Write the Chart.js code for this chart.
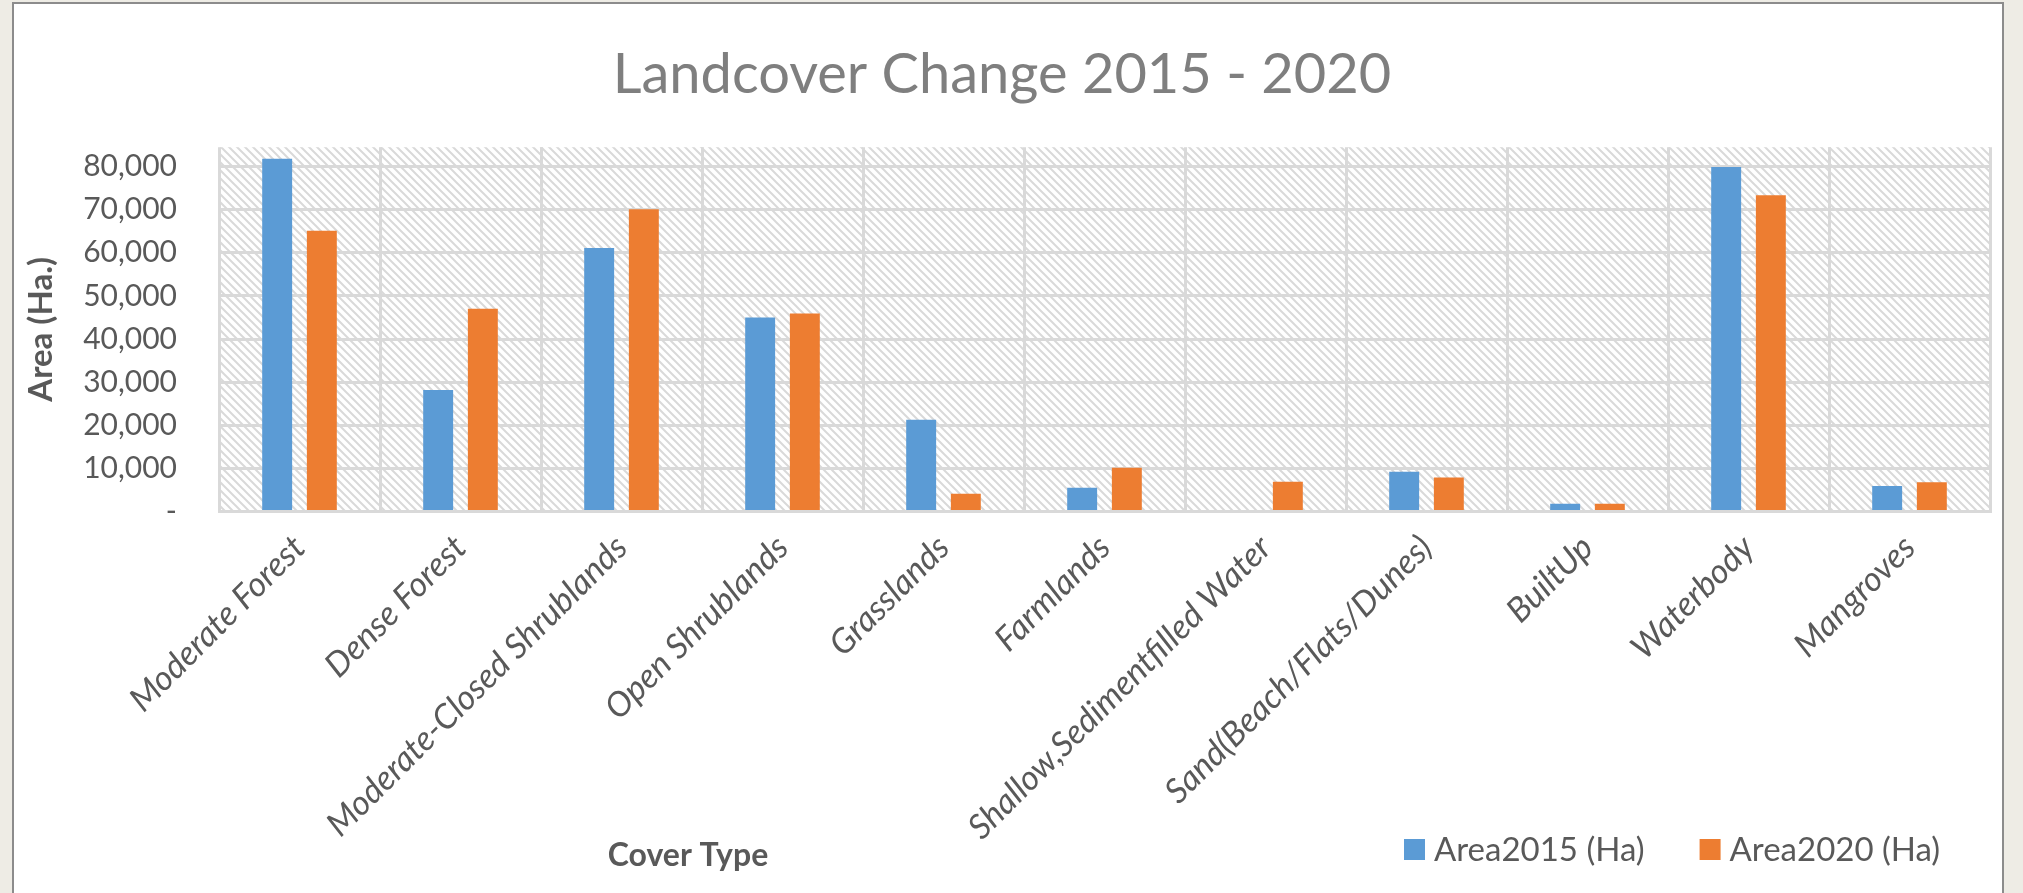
<!DOCTYPE html>
<html>
<head>
<meta charset="utf-8">
<script src="https://cdn.jsdelivr.net/npm/chart.js@4/dist/chart.umd.min.js"></script>
<style>
  body { margin: 0; background: #eeece5; width: 2023px; height: 893px; overflow: hidden; }
  #card { position: absolute; left: 12px; top: 2px; width: 1988px; height: 900px;
          border: 2px solid #8c8c8c; background: #fff; }
  #landcoverChart { display: block; }
</style>
</head>
<body>
<div id="card"><canvas id="landcoverChart" width="1988" height="889"></canvas></div>
<script>
// Chart data
const categories = [
    'Moderate Forest', 'Dense Forest', 'Moderate-Closed Shrublands', 'Open Shrublands',
    'Grasslands', 'Farmlands', 'Shallow,Sedimentfilled Water', 'Sand(Beach/Flats/Dunes)',
    'BuiltUp', 'Waterbody', 'Mangroves'
];
const area2015 = [81800, 28200, 61100, 45000, 21300, 5500, 0, 9200, 1800, 79900, 5900];
const area2020 = [65100, 47000, 70100, 45900, 4100, 10150, 6900, 7900, 1800, 73350, 6800];
const yTickValues = [0, 10000, 20000, 30000, 40000, 50000, 60000, 70000, 80000];

const textGray = '#595959';
const gridGray = '#d9d9d9';

// hatch pattern for the plot background
function makeHatch() {
    const tile = document.createElement('canvas');
    tile.width = 8;
    tile.height = 8;
    const t = tile.getContext('2d');
    t.strokeStyle = '#d9d9d9';
    t.lineWidth = 2;
    t.beginPath();
    t.moveTo(-1, -1); t.lineTo(9, 9);
    t.moveTo(-5, 3); t.lineTo(1, 9);
    t.moveTo(7, -1); t.lineTo(9, 1);
    t.stroke();
    return t.createPattern(tile, 'repeat');
}

const hatchPlugin = {
    id: 'hatch',
    beforeDraw(chart) {
        const { ctx, chartArea } = chart;
        ctx.save();
        ctx.fillStyle = makeHatch();
        ctx.fillRect(chartArea.left, chartArea.top, chartArea.right - chartArea.left, chartArea.bottom - chartArea.top);
        ctx.restore();
    }
};

// x axis title and legend sit side by side under the labels
const bottomTextPlugin = {
    id: 'bottomText',
    afterDraw(chart) {
        const ctx = chart.ctx;
        ctx.save();
        ctx.fillStyle = textGray;
        ctx.font = 'bold 32px Lato';
        ctx.textAlign = 'center';
        ctx.textBaseline = 'middle';
        ctx.fillText('Cover Type', 674, 852);

        ctx.font = '33px Lato';
        ctx.textAlign = 'left';
        let x = 1390;
        const y = 845;
        chart.data.datasets.forEach(ds => {
            ctx.fillStyle = ds.backgroundColor;
            ctx.fillRect(x, y - 10, 21, 21);
            ctx.fillStyle = textGray;
            ctx.fillText(ds.label, x + 30, y + 1);
            x += 30 + ctx.measureText(ds.label).width + 55;
        });
        ctx.restore();
    }
};

const ctx = document.getElementById('landcoverChart').getContext('2d');
const chart = new Chart(ctx, {
    type: 'bar',
    data: {
        labels: categories,
        datasets: [
            { label: 'Area2015 (Ha)', data: area2015, backgroundColor: '#5b9bd5',
              categoryPercentage: 0.555, barPercentage: 0.67 },
            { label: 'Area2020 (Ha)', data: area2020, backgroundColor: '#ed7d31',
              categoryPercentage: 0.555, barPercentage: 0.67 }
        ]
    },
    options: {
        responsive: false,
        animation: false,
        layout: { padding: { left: 0, right: 12, top: 0, bottom: 0 } },
        plugins: {
            legend: { display: false },
            tooltip: { enabled: false },
            title: {
                display: true,
                text: 'Landcover Change 2015 - 2020',
                color: '#7f7f7f',
                font: { family: 'Lato', size: 56, weight: 'normal' },
                padding: { top: 37, bottom: 39 }
            }
        },
        scales: {
            x: {
                grid: { color: gridGray, lineWidth: 3, offset: true, drawTicks: false },
                border: { display: true, color: gridGray, width: 3 },
                ticks: {
                    color: textGray,
                    font: { family: 'Lato', size: 34, style: 'italic' },
                    minRotation: 45,
                    maxRotation: 45,
                    autoSkip: false,
                    padding: 16
                },
                afterFit(scale) { scale.height = 381.5; }
            },
            y: {
                min: 0,
                max: 84500,
                grid: { color: gridGray, lineWidth: 3, drawTicks: false },
                border: { display: false },
                afterBuildTicks(scale) {
                    scale.ticks = yTickValues.map(v => ({ value: v }));
                },
                ticks: {
                    color: textGray,
                    font: { family: 'Lato', size: 30 },
                    padding: 42,
                    callback: v => v === 0 ? '-' : v.toLocaleString('en-US')
                },
                title: {
                    display: true,
                    text: 'Area (Ha.)',
                    color: textGray,
                    font: { family: 'Lato', size: 33, weight: 'bold' },
                    padding: { top: 8, bottom: 0 }
                },
                afterFit(scale) { scale.width = 205; }
            }
        }
    },
    plugins: [hatchPlugin, bottomTextPlugin]
});
</script>
</body>
</html>
